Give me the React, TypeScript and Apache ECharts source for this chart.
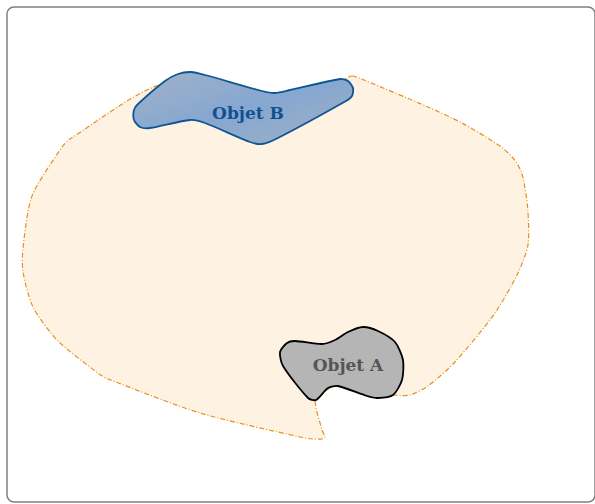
import React, { useEffect, useRef } from "react";
import * as echarts from "echarts";

// Outline of the surrounding region (pixel space of the figure)
const regionOutline: number[][] = [
  [352, 76], [364, 80], [428, 107], [462, 123], [500, 146], [513, 158], [521, 171],
  [525, 188], [528, 212], [528, 245], [518, 273], [495, 313], [455, 362], [428, 386],
  [410, 395], [395, 395], [345, 384], [316, 398], [322, 430], [325, 437], [322, 439],
  [312, 439], [300, 437], [200, 413], [108, 379], [99, 374], [57, 340], [33, 307],
  [23, 272], [23, 248], [32, 196], [62, 147], [70, 139], [163, 84], [250, 100], [342, 80],
];

const objetB: number[][] = [
  [138, 104], [165, 81], [178, 74], [191, 72], [205, 75], [262, 91], [275, 93], [290, 90],
  [340, 79], [348, 81], [353, 88], [352, 96], [346, 101], [278, 138], [262, 144],
  [250, 142], [205, 123], [190, 120], [150, 128], [140, 127], [134, 120], [134, 110],
];

const objetA: number[][] = [
  [295, 341], [322, 344], [335, 340], [348, 332], [363, 327], [378, 331], [395, 342],
  [403, 360], [402, 380], [393, 395], [378, 398], [367, 396], [338, 386], [328, 388],
  [316, 400], [308, 398], [283, 366], [280, 352], [287, 343],
];

const labels = ["Objet B", "Objet A"];
const labelPos: number[][] = [[248, 113], [348, 365]];

export default function App() {
  const ref = useRef<HTMLDivElement>(null);
  useEffect(() => {
    const chart = echarts.init(ref.current!, null, { renderer: "svg" });
    const shapes = [
      {
        pts: regionOutline,
        smooth: 0.25,
        style: { fill: "#fef2e3", stroke: "#e8901c", lineWidth: 1.2, lineDash: [5, 2, 1, 2] },
      },
      {
        pts: objetB,
        smooth: 0.25,
        style: {
          fill: new echarts.graphic.LinearGradient(0, 0, 1, 1, [
            { offset: 0, color: "#a0b2c8" },
            { offset: 0.5, color: "#86a7d0" },
            { offset: 1, color: "#9fb0c6" },
          ]),
          stroke: "#0e5595",
          lineWidth: 1.8,
        },
      },
      {
        pts: objetA,
        smooth: 0.25,
        style: { fill: "#b5b5b5", stroke: "#000000", lineWidth: 1.8 },
      },
    ];
    const textColors = ["#10528f", "#555555"];
    chart.setOption({
      animation: false,
      grid: { left: 0, right: 0, top: 0, bottom: 0 },
      xAxis: { type: "value", min: 0, max: 595, show: false },
      yAxis: { type: "value", min: 0, max: 504, inverse: true, show: false },
      graphic: [
        {
          type: "rect",
          shape: { x: 7, y: 7, width: 588, height: 495, r: 7 },
          style: { fill: "none", stroke: "#808080", lineWidth: 1.5 },
          z: 10,
        },
      ],
      series: [
        {
          type: "custom",
          coordinateSystem: "cartesian2d",
          data: [[0], [1], [2]],
          renderItem: (params: any, api: any) => {
            const i = params.dataIndex;
            const s = shapes[i];
            const points = s.pts.map((p) => api.coord(p));
            const children: any[] = [
              { type: "polygon", shape: { points, smooth: s.smooth }, style: s.style },
            ];
            if (i > 0) {
              const c = api.coord(labelPos[i - 1]);
              children.push({
                type: "text",
                x: c[0],
                y: c[1],
                style: {
                  text: labels[i - 1],
                  fill: textColors[i - 1],
                  font: "bold 17px 'DejaVu Serif'",
                  align: "center",
                  verticalAlign: "middle",
                },
              });
            }
            return { type: "group", children };
          },
        },
      ],
    });
    return () => chart.dispose();
  }, []);
  return (
    <div
      ref={ref}
      style={{ position: "absolute", left: 0, top: 0, width: 595, height: 504 }}
    />
  );
}
